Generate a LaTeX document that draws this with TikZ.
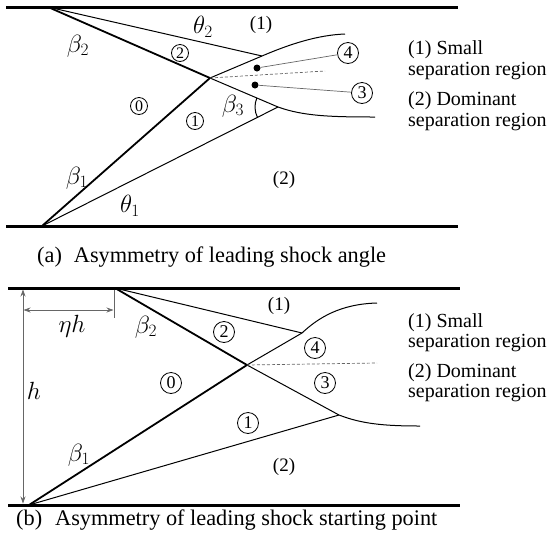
\documentclass[tikz,border=0pt]{standalone}
\usepackage{fontspec}
\setmainfont{Liberation Serif}
\usetikzlibrary{arrows.meta,angles}
\begin{document}
\begin{tikzpicture}[x=1pt,y=1pt,
  wall/.style={line width=3pt},
  shock/.style={line width=1.8pt},
  thinln/.style={line width=1pt},
  leader/.style={line width=0.7pt, draw=black!60},
  dashln/.style={line width=0.7pt, draw=black!60, dash pattern=on 3pt off 2pt},
  dimline/.style={line width=0.7pt, draw=black!60},
  circa/.style={circle, draw, line width=0.8pt, inner sep=0pt, minimum size=17pt, font=\fontsize{16}{16}\selectfont},
  circb/.style={circle, draw, line width=0.8pt, inner sep=0pt, minimum size=21pt, font=\fontsize{18}{18}\selectfont},
  lbl/.style={inner sep=0pt, font=\fontsize{19}{22}\selectfont},
  mlbl/.style={inner sep=0pt, font=\fontsize{23}{26}\selectfont},
  legend/.style={anchor=west, inner sep=0pt, font=\fontsize{20}{24}\selectfont},
  capt/.style={anchor=west, inner sep=0pt, font=\fontsize{22.3}{26}\selectfont},
  dot/.style={circle, fill, inner sep=0pt, minimum size=7pt},
]
\useasboundingbox (0,0) rectangle (549,-550);

% ================= Panel (a) =================
\coordinate (wat1) at (6,-7);   \coordinate (wat2) at (458,-7);
\coordinate (wab1) at (6,-226); \coordinate (wab2) at (458,-226);
\draw[wall] (wat1) -- (wat2);
\draw[wall] (wab1) -- (wab2);

\coordinate (A1) at (48,-7);
\coordinate (B1) at (42,-226);
\coordinate (I1) at (210,-78);
\coordinate (P2) at (262,-56);
\coordinate (P1) at (278,-107);
\coordinate (E2) at (345,-34);
\coordinate (E1) at (375,-117);
\coordinate (DE) at (325,-71);

\draw[shock] (A1) -- (I1);
\draw[shock] (B1) -- (I1);
\draw[thinln] (A1) -- (P2);
\draw[thinln] (B1) -- (P1);
\draw[thinln] (I1) -- (P2) .. controls (290,-44) and (318,-35) .. (E2);
\draw[thinln] (I1) -- (P1) .. controls (303,-116) and (330,-117) .. (E1);
\draw[dashln] (I1) -- (DE);
\pic[draw, line width=1pt, angle radius=23pt] {angle = I1--P1--B1};

\node[dot] (d4) at (257,-68) {};
\node[dot] (d3) at (255,-85) {};
\node[circb] (ca4) at (348,-53) {4};
\node[circb] (ca3) at (362,-93) {3};
\draw[leader] (d4) -- (ca4);
\draw[leader] (d3) -- (ca3);

\node[circa] (ca2) at (180,-53) {2};
\node[circa] (ca0) at (139,-106) {0};
\node[circa] (ca1) at (195,-121) {1};

\node[mlbl] (lb2a) at (78,-46) {$\beta_2$};
\node[mlbl] (lt2a) at (203,-27) {$\theta_2$};
\node[lbl] (lr1a) at (261,-25) {(1)};
\node[mlbl] (lb3a) at (233,-106) {$\beta_3$};
\node[mlbl] (lb1a) at (77,-178) {$\beta_1$};
\node[mlbl] (lt1a) at (130,-206) {$\theta_1$};
\node[lbl] (lr2a) at (284,-180) {(2)};

\node[legend] (lga1) at (408,-50) {(1) Small};
\node[legend] (lga2) at (408,-71) {separation region};
\node[legend] (lga3) at (408,-101) {(2) Dominant};
\node[legend] (lga4) at (408,-122) {separation region};

\node[capt] (capa) at (37,-257) {(a)\hspace{12pt}Asymmetry of leading shock angle};

% ================= Panel (b) =================
\coordinate (wbt1) at (8,-288);   \coordinate (wbt2) at (460,-288);
\coordinate (wbb1) at (8,-505);   \coordinate (wbb2) at (460,-505);
\draw[wall] (wbt1) -- (wbt2);
\draw[wall] (wbb1) -- (wbb2);

\coordinate (A2) at (115,-288);
\coordinate (B2) at (29,-505);
\coordinate (I2) at (247,-365);
\coordinate (Q2) at (302,-333);
\coordinate (Q1) at (339,-415);
\coordinate (F2) at (377,-303);
\coordinate (F1) at (420,-426);
\coordinate (DF) at (377,-363);

\draw[shock] (A2) -- (I2);
\draw[shock] (B2) -- (I2);
\draw[thinln] (A2) -- (Q2);
\draw[thinln] (B2) -- (Q1);
\draw[thinln] (I2) -- (Q2) .. controls (318,-318) and (340,-304) .. (F2);
\draw[thinln] (I2) -- (Q1) .. controls (362,-424) and (385,-426) .. (F1);
\draw[dashln] (I2) -- (DF);

% dimensions
\coordinate (h1) at (23,-289.5);
\coordinate (h2) at (23,-503.5);
\draw[dimline, {Stealth[length=7pt,width=5pt]}-{Stealth[length=7pt,width=5pt]}] (h1) -- (h2);
\coordinate (e1) at (114,-289.5);
\coordinate (e2) at (114,-318);
\draw[dimline] (e1) -- (e2);
\coordinate (n1) at (23.5,-310);
\coordinate (n2) at (113.5,-310);
\draw[dimline, {Stealth[length=7pt,width=5pt]}-{Stealth[length=7pt,width=5pt]}] (n1) -- (n2);
\node[mlbl] (leta) at (72,-326) {$\eta h$};
\node[mlbl] (lh) at (34,-391) {$h$};

\node[circb] (cb2) at (224,-332) {2};
\node[circb] (cb4) at (315,-348) {4};
\node[circb] (cb3) at (325,-383) {3};
\node[circb] (cb0) at (171,-383) {0};
\node[circb] (cb1) at (248,-423) {1};

\node[lbl] (lr1b) at (279,-306) {(1)};
\node[mlbl] (lb2b) at (146,-327) {$\beta_2$};
\node[mlbl] (lb1b) at (79,-455) {$\beta_1$};
\node[lbl] (lr2b) at (284,-467) {(2)};

\node[legend] (lgb1) at (408,-323) {(1) Small};
\node[legend] (lgb2) at (408,-343) {separation region};
\node[legend] (lgb3) at (408,-373) {(2) Dominant};
\node[legend] (lgb4) at (408,-393) {separation region};

\node[capt] (capb) at (16,-520) {(b)\hspace{13pt}Asymmetry of leading shock starting point};
\end{tikzpicture}
\end{document}
